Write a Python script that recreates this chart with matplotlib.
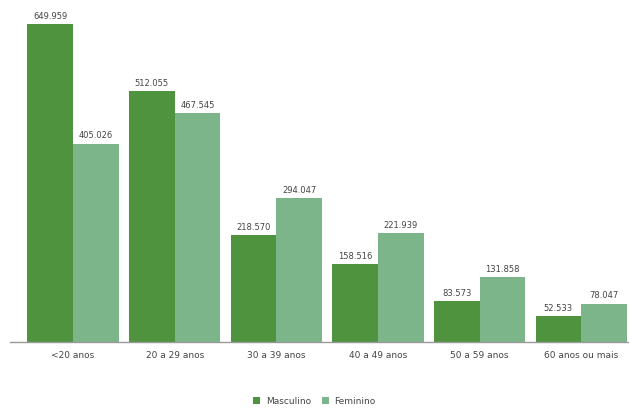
import numpy as np
import matplotlib
matplotlib.use("Agg")
import matplotlib.pyplot as plt

# faixas etarias e valores por sexo
faixas = ["<20 anos", "20 a 29 anos", "30 a 39 anos", "40 a 49 anos", "50 a 59 anos", "60 anos ou mais"]
masculino = [649959, 512055, 218570, 158516, 83573, 52533]
feminino = [405026, 467545, 294047, 221939, 131858, 78047]

cor_masc = "#4f933f"
cor_fem = "#7db58a"


def fmt(v):
    # separador de milhar com ponto
    return "{:,}".format(v).replace(",", ".")


fig = plt.figure(figsize=(6.29, 4.14), dpi=100)
ax = fig.add_axes([10 / 629, 1 - 343 / 414, 618 / 629, 333 / 414])

x = np.arange(len(faixas))
w = 0.45
b1 = ax.bar(x - w / 2, masculino, w, color=cor_masc, label="Masculino")
b2 = ax.bar(x + w / 2, feminino, w, color=cor_fem, label="Feminino")

for bars, vals in ((b1, masculino), (b2, feminino)):
    for r, v in zip(bars, vals):
        ax.text(r.get_x() + r.get_width() / 2, v + 9000, fmt(v),
                ha="center", va="bottom", fontsize=6, color="#444444")

ax.set_xlim(-0.62, 5.46)
ax.set_ylim(0, 680600)
ax.set_xticks(x)
ax.set_xticklabels(faixas, fontsize=6.5, color="#444444")
ax.tick_params(axis="x", length=0, pad=6)
ax.set_yticks([])
for s in ["top", "right", "left"]:
    ax.spines[s].set_visible(False)
ax.spines["bottom"].set_color("#999999")
ax.spines["bottom"].set_linewidth(1)

fig.legend(handles=[b1, b2], loc="center", bbox_to_anchor=(0.5, 1 - 402 / 414),
           ncol=2, frameon=False, fontsize=6.5, handlelength=0.8, handleheight=0.8,
           columnspacing=1.2, handletextpad=0.6, labelcolor="#444444")

fig.savefig("out.png", dpi=100)
